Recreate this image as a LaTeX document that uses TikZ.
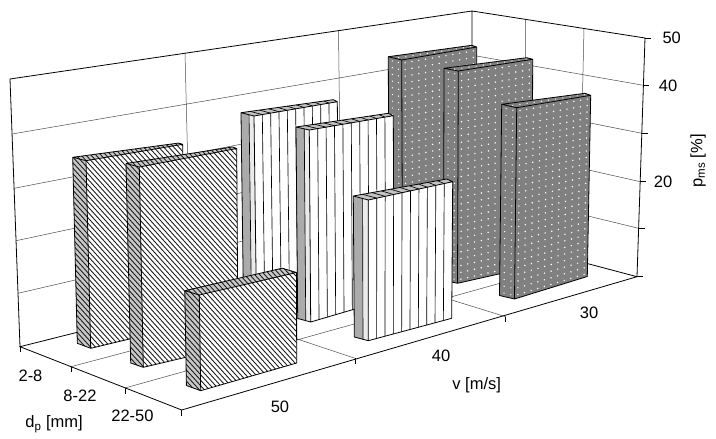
\documentclass[tikz,border=0pt]{standalone}
\usepackage{fontspec}
\setmainfont{Liberation Sans}
\usetikzlibrary{calc}

\tikzset{
  frame/.style={black, line width=0.8pt},
  gridln/.style={black!70, line width=0.5pt},
  edge/.style={black, line width=0.8pt, line join=round},
  hatch/.style={black!90, line width=0.85pt},
  stripe/.style={black, line width=0.65pt},
  dotc/.style={white},
  lbl/.style={font=\fontsize{16.5}{19}\selectfont, inner sep=0pt},
}

% #1 name, #2 FLt, #3 FRt, #4 FLb, #5 FRb, #6 tL, #7 tR, #8 tLb
\newcommand\defslab[8]{%
  \coordinate (#1-flt) at (#2);
  \coordinate (#1-frt) at (#3);
  \coordinate (#1-flb) at (#4);
  \coordinate (#1-frb) at (#5);
  \coordinate (#1-blt) at ($(#1-flt)-(#6)$);
  \coordinate (#1-brt) at ($(#1-frt)-(#7)$);
  \coordinate (#1-blb) at ($(#1-flb)-(#8)$);
}
\newcommand\slabedges[1]{%
  \draw[edge] (#1-blt)--(#1-brt)--(#1-frt)--(#1-frb)--(#1-flb)--(#1-blb)--cycle
    (#1-blt)--(#1-flt)--(#1-frt) (#1-flt)--(#1-flb);
}
% hatched slab: #1 name, #2 kmin, #3 kmax
\newcommand\hatchslab[3]{%
  \fill[white] (#1-flt)--(#1-frt)--(#1-frb)--(#1-flb)--cycle;
  \fill[black!22] (#1-blt)--(#1-flt)--(#1-flb)--(#1-blb)--cycle;
  \fill[black!22] (#1-blt)--(#1-brt)--(#1-frt)--(#1-flt)--cycle;
  \begin{scope}
    \clip (#1-blt)--(#1-brt)--(#1-frt)--(#1-frb)--(#1-flb)--(#1-blb)--cycle;
    \foreach \k in {#2,...,#3}{\draw[hatch] ({\k*5+100/1.1},100)--({\k*5+420/1.1},420);}
  \end{scope}
  \slabedges{#1}
}
% striped slab
\newcommand\stripeslab[1]{%
  \fill[white] (#1-flt)--(#1-frt)--(#1-frb)--(#1-flb)--cycle;
  \fill[black!24] (#1-blt)--(#1-brt)--(#1-frt)--(#1-flt)--cycle;
  \fill[black!33] (#1-blt)--($(#1-blt)!0.62!(#1-flt)$)--($(#1-blb)!0.62!(#1-flb)$)--(#1-blb)--cycle;
  \fill[black!8] ($(#1-blt)!0.62!(#1-flt)$)--(#1-flt)--(#1-flb)--($(#1-blb)!0.62!(#1-flb)$)--cycle;
  \draw[stripe] ($(#1-blt)!0.62!(#1-flt)$)--($(#1-blb)!0.62!(#1-flb)$);
  \foreach \k [evaluate=\k as \f using \k/10] in {1,...,9}{%
    \draw[stripe] ($(#1-flt)!\f!(#1-frt)$)--($(#1-flb)!\f!(#1-frb)$);
    \draw[stripe] ($(#1-flt)!\f!(#1-frt)$)--($(#1-blt)!\f!(#1-brt)$);
  }
  \slabedges{#1}
}
% dotted slab: #1 name, #2 columns, #3 rows
\newcommand\dotslab[3]{%
  \fill[black!50] (#1-blt)--(#1-brt)--(#1-frt)--(#1-frb)--(#1-flb)--(#1-blb)--cycle;
  \foreach \i [evaluate=\i as \fa using (\i-0.5)/#2] in {1,...,#2}{%
    \foreach \j [evaluate=\j as \fb using (\j-0.5)/#3] in {1,...,#3}{%
      \fill[dotc] ($($(#1-flt)!\fa!(#1-frt)$)!\fb!($(#1-flb)!\fa!(#1-frb)$)$) circle[radius=0.8pt];
    }
    \fill[dotc] ($($(#1-blt)!\fa!(#1-brt)$)!0.5!($(#1-flt)!\fa!(#1-frt)$)$) circle[radius=0.7pt];
  }
  \foreach \fa in {0.3,0.75}{%
    \foreach \j [evaluate=\j as \fb using (\j-0.5)/#3] in {1,...,#3}{%
      \fill[dotc] ($($(#1-blt)!\fa!(#1-flt)$)!\fb!($(#1-blb)!\fa!(#1-flb)$)$) circle[radius=0.7pt];
    }
  }
  \slabedges{#1}
}

\begin{document}
\begin{tikzpicture}[x=1pt,y=-1pt]
\useasboundingbox (0,0) rectangle (716,439);
\fill[white] (0,0) rectangle (716,439);

% frame corners
\coordinate (At) at (10,79);
\coordinate (Ab) at (20,346.7);
\coordinate (Bt) at (472,11);
\coordinate (Bb) at (472,233);
\coordinate (Ct) at (645,38);
\coordinate (Cb) at (637,276.7);
\coordinate (F) at (181.7,410);

% back wall grid
\coordinate (bw40a) at (12.1,134);   \coordinate (bw40b) at (472,55.2);
\coordinate (bw30a) at (14.1,188.3); \coordinate (bw30b) at (472,99.4);
\coordinate (bw20a) at (16.1,240.7); \coordinate (bw20b) at (472,143.6);
\coordinate (bw10a) at (18,293.3);   \coordinate (bw10b) at (472,187.8);
\coordinate (bv1t) at (185,53.2);    \coordinate (bv1b) at (191.3,303.6);
\coordinate (bv2t) at (338.5,30.7);  \coordinate (bv2b) at (341.4,265.9);
% right wall grid
\coordinate (rw40) at (643.4,85.3);
\coordinate (rw30) at (641.8,133.3);
\coordinate (rw20) at (640.2,181.7);
\coordinate (rw10) at (638.6,228.3);
\coordinate (rv1t) at (525.7,19.4);  \coordinate (rv1b) at (523.1,246.5);
\coordinate (rv2t) at (584,28.5);    \coordinate (rv2b) at (578.6,261.3);
% floor grid
\coordinate (dp1) at (71,366.7);
\coordinate (dp2) at (125,388);
\coordinate (vt1) at (355,358.3);
\coordinate (vt2) at (505.7,316.7);

\draw[gridln] (bw40a)--(bw40b) (bw30a)--(bw30b) (bw20a)--(bw20b) (bw10a)--(bw10b)
  (bv1t)--(bv1b) (bv2t)--(bv2b);
\draw[gridln] (bw40b)--(rw40) (bw30b)--(rw30) (bw20b)--(rw20) (bw10b)--(rw10)
  (rv1t)--(rv1b) (rv2t)--(rv2b);
\draw[gridln] (dp1)--(rv1b) (dp2)--(rv2b) (bv1b)--(vt1) (bv2b)--(vt2);
\draw[frame] (Ab)--(At)--(Bt)--(Ct)--(Cb) (Bt)--(Bb) (Ab)--(Bb)--(Cb)--(F)--cycle;

% ticks
\foreach \p in {Ab,dp1,dp2,F,vt1,vt2}{\draw[frame] (\p)--++(0,5.5);}
\foreach \p in {Ct,rw40,rw30,rw20,rw10,Cb}{\draw[frame] (\p)--++(6,0);}

% bars
\defslab{h1}{86,160.7}{182.7,144.3}{90.7,348.3}{183.5,326}{13.3,3.4}{4.4,1.2}{13.4,5}
\defslab{w1}{254,116}{337.3,101.7}{256.5,309}{339,289}{13,3.3}{4,2}{13,4.5}
\defslab{d1}{401.7,60}{476.7,47}{402.5,268}{477,250}{13.4,3.3}{5,1.7}{13.5,3.5}
\defslab{h2}{139.3,167}{236.7,148.5}{143.3,367.3}{238,345}{13.3,3.5}{4.4,1.5}{12.6,4.3}
\defslab{w2}{309.3,130}{393.3,115.7}{310.7,322}{394,297.5}{13.3,3}{5,2.4}{13,3.5}
\defslab{d2}{458.3,71}{532.7,59.3}{457.5,283.3}{532,266.5}{14.3,2.7}{6,1.6}{14,3}
\defslab{h3}{199.3,295}{296.5,272.5}{200.7,390.7}{296.7,363}{14.5,4.3}{14.3,4.3}{14.3,5.2}
\defslab{w3}{368.3,200}{452.7,181.7}{368.3,340.7}{451.7,318.3}{15,4}{6,2.7}{14,3.7}
\defslab{d3}{516.7,107.7}{590.7,95.3}{514.5,299}{587.3,276.5}{15,3.4}{5.7,2}{15,3.5}

\hatchslab{h1}{-66}{22}
\stripeslab{w1}
\dotslab{d1}{11}{31}
\hatchslab{h2}{-58}{32}
\stripeslab{w2}
\dotslab{d2}{11}{31}
\hatchslab{h3}{-48}{24}
\stripeslab{w3}
\dotslab{d3}{11}{28}

% labels
\node[lbl] (l28) at (30.5,376) {2-8};
\node[lbl] (l822) at (80,396) {8-22};
\node[lbl] (l2250) at (132.5,416) {22-50};
\node[lbl] (ldp) at (54,424) {d\textsubscript{p} [mm]};
\node[lbl] (l50) at (280,406.7) {50};
\node[lbl] (l40) at (441,356) {40};
\node[lbl] (l30) at (589,312.5) {30};
\node[lbl] (lv) at (476.7,385) {v [m/s]};
\node[lbl] (p50) at (671.7,37.5) {50};
\node[lbl] (p40) at (668,86) {40};
\node[lbl] (p20) at (663,182) {20};
\node[lbl,rotate=90] (lp) at (698,161) {p\textsubscript{ms} [\%]};
\end{tikzpicture}
\end{document}
